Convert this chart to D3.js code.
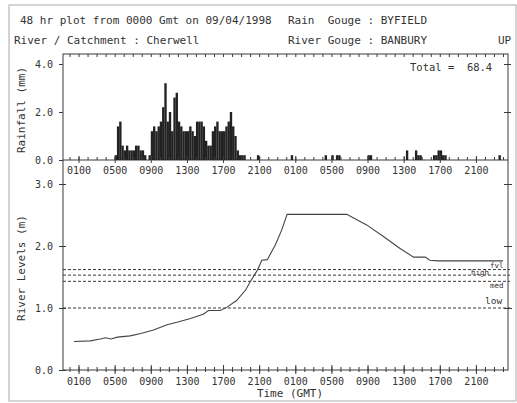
<!DOCTYPE html>
<html>
<head>
<meta charset="utf-8">
<script src="https://cdn.jsdelivr.net/npm/d3@7"></script>
<style>
  body { margin: 0; background: #fff; }
  text { font-family: "DejaVu Sans Mono", monospace; fill: #333; }
</style>
</head>
<body>
<div id="chart-container"></div>
<script>

// 15-minute rainfall totals (mm), 48 hours from 0000 GMT, one row = 4 hours
const rainfall = [
    0, 0, 0, 0, 0, 0, 0, 0, 0, 0, 0, 0, 0, 0, 0, 0,
    0, 0, 0, 0, 0.2, 1.4, 1.6, 0.6, 0.4, 0.6, 0.4, 0.4, 0.4, 0.6, 0.6, 0.4,
    0.4, 0.2, 0, 0.2, 1.2, 1.4, 1.2, 1.4, 1.6, 2.2, 3.2, 1.6, 2.0, 1.2, 2.6, 2.8,
    1.6, 1.4, 1.2, 1.2, 1.2, 1.4, 1.2, 1.0, 1.6, 1.6, 1.6, 1.4, 0.8, 0.6, 0.6, 1.2,
    1.4, 1.6, 1.2, 1.2, 1.2, 1.4, 1.6, 2.0, 1.4, 1.0, 0.4, 0.2, 0.2, 0.2, 0, 0,
    0, 0, 0, 0.2, 0, 0, 0, 0, 0, 0, 0, 0, 0, 0, 0, 0,
    0, 0, 0.2, 0, 0, 0, 0, 0, 0, 0, 0, 0, 0, 0, 0, 0,
    0, 0.2, 0, 0, 0.2, 0, 0.2, 0.2, 0, 0, 0, 0, 0, 0, 0, 0,
    0, 0, 0, 0, 0.2, 0.2, 0, 0, 0, 0, 0, 0, 0, 0, 0, 0,
    0, 0, 0, 0, 0, 0.4, 0, 0, 0, 0.4, 0.2, 0.2, 0, 0, 0, 0,
    0, 0.2, 0.2, 0.4, 0.4, 0.2, 0.2, 0, 0, 0, 0, 0, 0, 0, 0, 0,
    0, 0, 0, 0, 0, 0, 0, 0, 0, 0, 0, 0, 0, 0, 0.2, 0
];

// river level at Banbury (m) against hours from 0000 GMT
const riverHours  = [0.5, 2.3, 3.4, 4.0, 4.6, 5.3, 6.7, 7.9, 9.3, 10.8, 11.9, 13.4, 14.8, 15.4, 16.7, 17.4, 18.5, 19.5, 20.0, 20.8, 21.3, 21.9, 22.8, 23.5, 24.1, 30.7, 32.9, 34.8, 36.6, 38.1, 39.4, 39.9, 40.8, 48.0];
const riverLevels = [0.46, 0.47, 0.50, 0.52, 0.50, 0.53, 0.55, 0.59, 0.645, 0.73, 0.77, 0.83, 0.90, 0.96, 0.96, 1.01, 1.12, 1.29, 1.42, 1.61, 1.77, 1.78, 2.02, 2.26, 2.51, 2.51, 2.34, 2.15, 1.96, 1.82, 1.82, 1.77, 1.76, 1.76];

const thresholdNames  = ["fvl", "high", "med", "low"];
const thresholdLevels = [1.62, 1.53, 1.43, 1.0];

const majorHours = [1, 5, 9, 13, 17, 21, 25, 29, 33, 37, 41, 45];
const timeLabels = ["0100", "0500", "0900", "1300", "1700", "2100", "0100", "0500", "0900", "1300", "1700", "2100"];
const rainTicks  = [0, 2, 4];
const levelTicks = [0, 1, 2, 3];

const svgWidth = 517;
const svgHeight = 403;
const frame = { left: 63, right: 508, top: 54, bottom: 370 };
const ink = "#3a3a3a";

const svg = d3.select("#chart-container")
    .append("svg")
    .attr("width", svgWidth)
    .attr("height", svgHeight);

// scanned page border
svg.append("rect")
    .attr("x", 9).attr("y", 5)
    .attr("width", 507).attr("height", 396)
    .attr("fill", "none")
    .attr("stroke", "#aaa")
    .attr("stroke-width", 1);

const scaleX = d3.scaleLinear().domain([0, 48]).range([69.5, 503]);
const rainY = d3.scaleLinear().domain([0, 4]).range([160, 64]);
const levelY = d3.scaleLinear().domain([0, 3]).range([370, 184]);

// header
const header = svg.append("g").attr("font-size", "11px");
header.append("text").attr("x", 20).attr("y", 24).text("48 hr plot from 0000 Gmt on 09/04/1998");
header.append("text").attr("x", 288).attr("y", 24).attr("xml:space", "preserve").text("Rain  Gouge : BYFIELD");
header.append("text").attr("x", 14).attr("y", 44).text("River / Catchment : Cherwell");
header.append("text").attr("x", 288).attr("y", 44).text("River Gouge : BANBURY");
header.append("text").attr("x", 498).attr("y", 44).text("UP");

// frame
svg.append("rect")
    .attr("x", frame.left).attr("y", frame.top)
    .attr("width", frame.right - frame.left)
    .attr("height", frame.bottom - frame.top)
    .attr("fill", "none")
    .attr("stroke", ink)
    .attr("stroke-width", 1);

svg.append("line")
    .attr("x1", frame.left).attr("x2", frame.right)
    .attr("y1", rainY(0)).attr("y2", rainY(0))
    .attr("stroke", ink);

// rainfall bars
const barW = scaleX(0.25) - scaleX(0);
svg.append("g")
    .selectAll("rect")
    .data(rainfall.map((v, i) => ({ hour: i / 4, value: v })).filter(d => d.value > 0))
    .join("rect")
    .attr("x", d => scaleX(d.hour))
    .attr("y", d => rainY(d.value))
    .attr("width", barW + 0.1)
    .attr("height", d => rainY(0) - rainY(d.value))
    .attr("fill", "#222");

const hourValues = d3.range(0, 49);

function styleAxis(g, up, down) {
    g.select(".domain").remove();
    g.selectAll(".tick line").attr("stroke", ink).attr("y1", -up).attr("y2", down);
    g.selectAll(".tick text").attr("fill", "#333");
}

// top edge ticks
svg.append("g")
    .attr("transform", `translate(0,${frame.top})`)
    .call(d3.axisBottom(scaleX).tickValues(hourValues).tickFormat(""))
    .call(g => styleAxis(g, 0, 3));

// rainfall time axis
svg.append("g")
    .attr("transform", `translate(0,${rainY(0)})`)
    .call(d3.axisBottom(scaleX).tickValues(hourValues).tickFormat(""))
    .call(g => styleAxis(g, 3, 0));
svg.append("g")
    .attr("transform", `translate(0,${rainY(0)})`)
    .attr("font-size", "9px")
    .call(d3.axisBottom(scaleX).tickValues(majorHours).tickFormat((d, i) => timeLabels[i]).tickPadding(3))
    .call(g => styleAxis(g, 4, 3))
    .call(g => g.selectAll(".tick text").attr("font-family", "DejaVu Sans Mono, monospace").attr("dy", "0.45em"));

// river time axis
svg.append("g")
    .attr("transform", `translate(0,${frame.bottom})`)
    .call(d3.axisBottom(scaleX).tickValues(hourValues).tickFormat(""))
    .call(g => styleAxis(g, 3, 2));
svg.append("g")
    .attr("transform", `translate(0,${frame.bottom})`)
    .attr("font-size", "9px")
    .call(d3.axisBottom(scaleX).tickValues(majorHours).tickFormat((d, i) => timeLabels[i]).tickPadding(4))
    .call(g => styleAxis(g, 5, 4))
    .call(g => g.selectAll(".tick text").attr("font-family", "DejaVu Sans Mono, monospace").attr("dy", "0.5em"));

// y axes
function styleY(g, outer, inner) {
    g.select(".domain").remove();
    g.selectAll(".tick line").attr("stroke", ink).attr("x1", -outer).attr("x2", inner);
    g.selectAll(".tick text").attr("font-family", "DejaVu Sans Mono, monospace").attr("fill", "#333");
}

svg.append("g")
    .attr("transform", `translate(${frame.left},0)`)
    .attr("font-size", "9.5px")
    .call(d3.axisLeft(rainY).tickValues(rainTicks).tickFormat(d3.format(".1f")).tickPadding(4))
    .call(g => styleY(g, 4, 0));
svg.append("g")
    .attr("transform", `translate(${frame.right},0)`)
    .call(d3.axisLeft(rainY).tickValues([2, 4]).tickFormat(""))
    .call(g => styleY(g, 4, 3));

svg.append("g")
    .attr("transform", `translate(${frame.left},0)`)
    .attr("font-size", "9.5px")
    .call(d3.axisLeft(levelY).tickValues(levelTicks).tickFormat(d3.format(".1f")).tickPadding(4))
    .call(g => styleY(g, 4, 3));
svg.append("g")
    .attr("transform", `translate(${frame.right},0)`)
    .call(d3.axisLeft(levelY).tickValues([1, 2, 3]).tickFormat(""))
    .call(g => styleY(g, 4, 4));

// threshold lines and their tags (fvl / high / med squeezed together as on the print)
const tagX  = [490, 471, 490, 485];
const tagDy = [-2, -0.5, 6.5, -4];
thresholdLevels.forEach(function(lv, i) {
    svg.append("line")
        .attr("x1", frame.left).attr("x2", frame.right + 2)
        .attr("y1", levelY(lv)).attr("y2", levelY(lv))
        .attr("stroke", ink)
        .attr("stroke-width", 1)
        .attr("stroke-dasharray", "3,2");
    svg.append("text")
        .attr("x", tagX[i])
        .attr("y", levelY(lv) + tagDy[i])
        .attr("font-size", i === 3 ? "9.5px" : "7.5px")
        .text(thresholdNames[i]);
});

// river level line
const lineGen = d3.line()
    .x(d => scaleX(d[0]))
    .y(d => levelY(d[1]));

svg.append("path")
    .datum(d3.zip(riverHours, riverLevels))
    .attr("fill", "none")
    .attr("stroke", "#444")
    .attr("stroke-width", 1.1)
    .attr("d", lineGen);

// titles
svg.append("text")
    .attr("x", 410).attr("y", 71)
    .attr("font-size", "10.5px")
    .attr("xml:space", "preserve")
    .text("Total =  68.4");

svg.append("text")
    .attr("transform", "rotate(-90)")
    .attr("x", -110).attr("y", 25)
    .attr("text-anchor", "middle")
    .attr("font-size", "11px")
    .text("Rainfall (mm)");

svg.append("text")
    .attr("transform", "rotate(-90)")
    .attr("x", -268).attr("y", 25)
    .attr("text-anchor", "middle")
    .attr("font-size", "11px")
    .text("River Levels (m)");

svg.append("text")
    .attr("x", 290).attr("y", 397)
    .attr("text-anchor", "middle")
    .attr("font-size", "11px")
    .text("Time (GMT)");

</script>
</body>
</html>
